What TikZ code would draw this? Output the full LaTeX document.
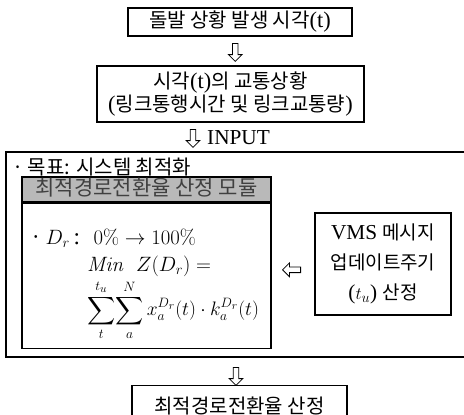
\documentclass[tikz,border=0pt]{standalone}
\usepackage{amsmath}
\usepackage{graphicx}
\usepackage[no-math]{fontspec}
\setmainfont{Liberation Serif}[Scale=1.12]
\newfontfamily\kr{Noto Sans CJK KR}
\usetikzlibrary{calc,shapes.arrows}
\tikzset{
  box/.style={draw, line width=1.1pt, inner sep=0pt, align=center,
    font=\fontsize{20}{23}\selectfont},
  hollow/.style={single arrow, draw, line width=0.8pt, inner sep=2.4pt,
    minimum height=18pt, single arrow head extend=4pt},
  down/.style={hollow, shape border rotate=270},
  left/.style={hollow, shape border rotate=180},
  txt/.style={inner sep=0pt, anchor=west, font=\fontsize{20.74}{25}\selectfont},
  frame/.style={line width=1.1pt},
}
\begin{document}
\begin{tikzpicture}[x=1pt,y=-1pt]
\useasboundingbox (0,0) rectangle (464,415);
% top boxes
\node[box, minimum width=224pt, minimum height=28pt] (b1) at (240,22)
  {{\kr 돌발 상황 발생 시각}(t)};
\node[box, minimum width=267pt, minimum height=56pt] (b2) at (230.5,94)
  {{\kr 시각}(t){\kr 의 교통상황}\\({\kr 링크통행시간 및 링크교통량})};
\node[down] (a1) at ($(b1.south)!0.5!(b2.north)$) {};
% big frame
\coordinate (ftr) at (466,152);
\coordinate (ftl) at (6,152);
\coordinate (fbl) at (6,357);
\coordinate (fbr) at (466,357);
\draw[frame] (ftr) -- (ftl) -- (fbl) -- (fbr);
\node[down] (a2) at (193,137) {};
\node[txt, font=\fontsize{19}{24}\selectfont] (inp) at (207,138) {INPUT};
\node[txt, font=\kr\fontsize{20}{24}\selectfont] (goal) at (12,167) {· 목표: 시스템 최적화};
% module
\node[box, fill=gray!55, minimum width=249pt, minimum height=25pt,
  text height=15pt, text depth=4pt,
  font=\kr\fontsize{21}{22}\selectfont, text=black!75] (hdr) at (146.5,189.5)
  {최적경로전환율 산정 모듈};
\node[box, minimum width=249pt, minimum height=145pt, anchor=north] (mod)
  at (hdr.south) {};
\node[txt] (l1) at (30,238) {{\kr ·}\,$D_r$\,: \ $0\%\rightarrow100\%$};
\node[txt] (l2) at (87,266) {$\mathit{Min}\ \ Z(D_r) =$};
\node[txt, font=\fontsize{17.28}{22}\selectfont] (l3) at (87,310)
  {\scalebox{1.13}{$\displaystyle\sum_{t}^{t_u}\!\sum_{a}^{N} x_a^{D_r}(t)\cdot k_a^{D_r}(t)$}};
% VMS box
\node[box, minimum width=136pt, minimum height=102pt,
  font=\fontsize{19}{30}\selectfont] (vms) at (383,264)
  {VMS {\kr 메시지}\\{\kr 업데이트주기}\\($t_u$) {\kr 산정}};
\node[left] (a3) at ($(mod.east)!0.5!(vms.west)$) {};
% bottom
\node[box, minimum width=215pt, minimum height=40pt, anchor=north] (b3) at (239.5,385)
  {\raisebox{-3pt}{\kr 최적경로전환율 산정}};
\node[down] (a4) at (236,375) {};
\end{tikzpicture}
\end{document}
